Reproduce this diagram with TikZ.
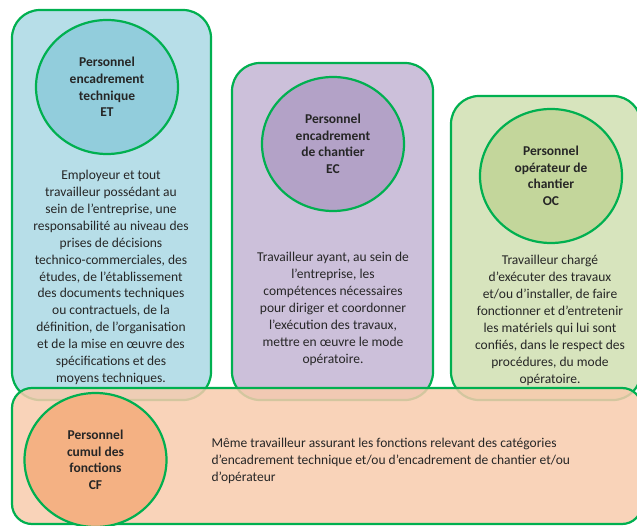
\documentclass[tikz,border=0pt]{standalone}
\usepackage{fontspec}
\setmainfont{Carlito}
\usetikzlibrary{shapes.geometric, positioning}
\definecolor{vert}{RGB}{0,176,80}
\definecolor{texte}{HTML}{262626}
\definecolor{bleuclair}{HTML}{B7DEE8}
\definecolor{bleu}{HTML}{92CDDC}
\definecolor{violetclair}{HTML}{CCC0DA}
\definecolor{violet}{HTML}{B3A2C7}
\definecolor{vertclair}{HTML}{D7E4BD}
\definecolor{vertmoyen}{HTML}{C3D69B}
\definecolor{orangeclair}{HTML}{F8CBAD}
\definecolor{orangemoyen}{HTML}{F4B183}
\tikzset{cadre/.style={rectangle, draw=vert, line width=2.2pt, rounded corners=28pt, inner sep=0pt},
    rond/.style={ellipse, draw=vert, line width=2.2pt, minimum width=142pt, minimum height=134pt, inner sep=0pt},
    titre/.style={font=\bfseries\fontsize{13.5}{16.6}\selectfont, align=center, text=texte},
    descr/.style={font=\fontsize{13.5}{16.9}\selectfont, align=center, text=texte}}

\begin{document}
\begin{tikzpicture}[x=1pt, y=-1pt]
    \useasboundingbox (0, 0) rectangle (637, 526);

    \node[cadre, fill=bleuclair, minimum width=199pt, minimum height=390pt] (bET) at (111.5, 205) {};
    \node[cadre, fill=violetclair, minimum width=201pt, minimum height=337pt] (bEC) at (332.5, 231.5) {};
    \node[cadre, fill=vertclair, minimum width=190pt, minimum height=304pt] (bOC) at (546, 248) {};

    \node[rond, fill=bleu] (cET) at (107, 87) {};
    \node[rond, fill=violet] (cEC) at (333, 144) {};
    \node[rond, fill=vertmoyen] (cOC) at (551, 176) {};

    \node[titre] (tET) at (cET) {Personnel\\encadrement\\technique\\ET};
    \node[titre] (tEC) at (cEC) {Personnel\\encadrement\\de chantier\\EC};
    \node[titre] (tOC) at (cOC) {Personnel\\opérateur de\\chantier\\OC};

    \node[descr] (dET) at (111, 277.5) {Employeur et tout\\travailleur possédant au\\sein de l’entreprise, une\\responsabilité au niveau des\\prises de décisions\\technico-commerciales, des\\études, de l’établissement\\des documents techniques\\ou contractuels, de la\\définition, de l’organisation\\et de la mise en œuvre des\\spécifications et des\\moyens techniques.};
    \node[descr] (dEC) at (333, 309) {Travailleur ayant, au sein de\\l’entreprise, les\\compétences nécessaires\\pour diriger et coordonner\\l’exécution des travaux,\\mettre en œuvre le mode\\opératoire.};
    \node[descr] (dOC) at (550, 320.5) {Travailleur chargé\\d’exécuter des travaux\\et/ou d’installer, de faire\\fonctionner et d’entretenir\\les matériels qui lui sont\\confiés, dans le respect des\\procédures, du mode\\opératoire.};

    % bande du bas, posee par-dessus les trois cadres
    \node[cadre, fill=orangeclair, fill opacity=0.85, rounded corners=20pt, minimum width=630pt, minimum height=136pt] (bCF) at (327, 456) {};
    \node[rond, fill=orangemoyen] (cCF) at (95.5, 460) {};
    \node[titre] (tCF) at (cCF) {Personnel\\cumul des\\fonctions\\CF};
    \node[descr, align=left, anchor=west] (dCF) at (208, 461) {Même travailleur assurant les fonctions relevant des catégories\\d’encadrement technique et/ou d’encadrement de chantier et/ou\\d’opérateur};
\end{tikzpicture}
\end{document}
